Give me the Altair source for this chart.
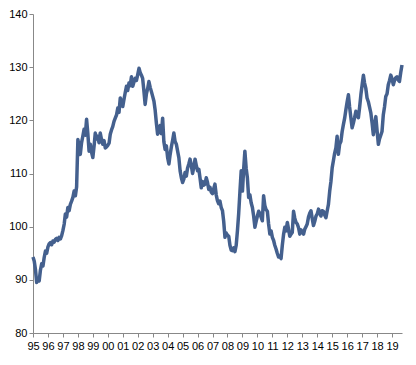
import altair as alt
import pandas as pd

START = "1995-01-01"

v1995 = [94.3, 93.5, 92.0, 89.5, 90.2, 89.8, 91.8, 93.0, 92.6, 94.2, 95.4, 95.0]
v1996 = [96.2, 96.8, 97.0, 96.6, 97.3, 97.1, 97.6, 97.8, 97.4, 98.0, 97.7, 98.3]
v1997 = [99.3, 100.5, 102.4, 101.8, 103.6, 103.0, 104.2, 104.8, 105.5, 106.7, 105.8, 107.5]
v1998 = [116.4, 115.0, 113.6, 115.8, 117.0, 118.3, 117.2, 120.2, 117.5, 114.2, 115.5, 114.0]
v1999 = [113.0, 115.2, 117.6, 116.5, 117.0, 115.8, 117.6, 116.4, 115.5, 116.2, 114.8, 115.0]
v2000 = [115.3, 115.7, 117.4, 118.2, 118.8, 119.8, 120.4, 121.0, 122.3, 121.5, 124.2, 123.5]
v2001 = [122.6, 124.0, 125.2, 126.4, 125.6, 127.0, 126.5, 128.2, 126.4, 127.2, 127.9, 127.5]
v2002 = [128.6, 129.8, 129.0, 128.5, 127.9, 125.5, 123.0, 125.0, 126.0, 127.3, 126.2, 125.4]
v2003 = [124.5, 123.6, 122.0, 119.5, 117.4, 118.2, 119.0, 117.5, 120.4, 116.0, 114.5, 115.2]
v2004 = [113.0, 111.8, 113.5, 115.0, 116.2, 117.6, 116.0, 115.5, 114.2, 113.0, 110.5, 109.2]
v2005 = [108.3, 109.0, 110.2, 109.5, 111.0, 111.8, 112.7, 111.5, 110.0, 111.2, 112.7, 111.5]
v2006 = [110.5, 110.8, 109.2, 107.3, 108.5, 107.8, 108.0, 109.2, 108.3, 107.0, 107.4, 106.5]
v2007 = [106.2, 107.2, 108.0, 106.0, 104.9, 104.3, 104.8, 103.6, 103.0, 101.0, 98.0, 98.8]
v2008 = [98.4, 98.2, 96.5, 95.6, 95.5, 96.0, 95.3, 96.5, 99.3, 102.5, 106.7, 110.5]
v2009 = [106.7, 111.0, 114.2, 111.0, 109.2, 105.5, 106.0, 104.5, 103.6, 102.0, 99.9, 101.0]
v2010 = [102.0, 102.9, 102.5, 101.8, 101.1, 105.8, 104.0, 103.2, 102.9, 100.5, 98.6, 99.2]
v2011 = [98.0, 97.4, 96.5, 95.8, 95.0, 94.3, 94.5, 94.0, 96.5, 98.5, 99.9, 99.2]
v2012 = [100.8, 99.5, 98.2, 98.6, 98.9, 102.9, 101.6, 100.8, 100.5, 99.8, 98.6, 99.4]
v2013 = [99.0, 98.6, 99.5, 100.0, 100.5, 101.8, 102.5, 103.0, 101.5, 100.2, 101.0, 102.0]
v2014 = [102.4, 103.3, 102.6, 102.0, 103.0, 102.9, 102.2, 101.7, 103.0, 104.2, 106.7, 108.5]
v2015 = [111.1, 112.5, 113.8, 114.8, 117.0, 113.6, 115.5, 116.0, 117.9, 119.2, 120.4, 122.0]
v2016 = [123.5, 124.8, 122.5, 120.5, 118.6, 119.5, 120.5, 121.7, 121.0, 120.5, 122.5, 124.8]
v2017 = [126.7, 128.5, 127.0, 126.0, 124.2, 123.5, 122.5, 121.4, 119.5, 117.3, 119.0, 120.7]
v2018 = [118.0, 115.5, 116.5, 117.2, 117.9, 121.0, 122.5, 124.5, 125.0, 126.7, 127.5, 128.5]
v2019 = [127.8, 126.7, 127.5, 128.0, 128.2, 127.6, 127.3, 129.0, 130.4]

y_ticks = [80, 90, 100, 110, 120, 130, 140]

values = (v1995 + v1996 + v1997 + v1998 + v1999 + v2000 + v2001 + v2002 + v2003
          + v2004 + v2005 + v2006 + v2007 + v2008 + v2009 + v2010 + v2011 + v2012
          + v2013 + v2014 + v2015 + v2016 + v2017 + v2018 + v2019)
dates = pd.date_range(START, periods=len(values), freq="MS")
df = pd.DataFrame({"date": dates, "value": values})

x_domain = [pd.Timestamp(START).isoformat(), dates[-1].isoformat()]

axis_common = dict(title=None, grid=False, domainColor="#888888", tickColor="#888888",
                   tickSize=4, labelFont="Liberation Sans", labelFontSize=11,
                   labelColor="#000000")

chart = alt.Chart(df).mark_line(
    color="#44608e", strokeWidth=3.5, strokeJoin="round"
).encode(
    x=alt.X("date:T",
            scale=alt.Scale(domain=x_domain, nice=False),
            axis=alt.Axis(format="%y", tickCount={"interval": "year", "step": 1},
                          labelOverlap=False, labelFlush=False, labelPadding=3,
                          **axis_common)),
    y=alt.Y("value:Q",
            scale=alt.Scale(domain=[80, 140], nice=False, zero=False),
            axis=alt.Axis(values=y_ticks, labelPadding=2, **axis_common)),
).properties(
    width=369, height=319,
    autosize=alt.AutoSizeParams(type="none"),
    padding={"left": 25, "top": 6, "right": 6, "bottom": 24},
).configure_view(stroke=None)

chart.save("out.html", embed_options={"renderer": "svg", "actions": False})
